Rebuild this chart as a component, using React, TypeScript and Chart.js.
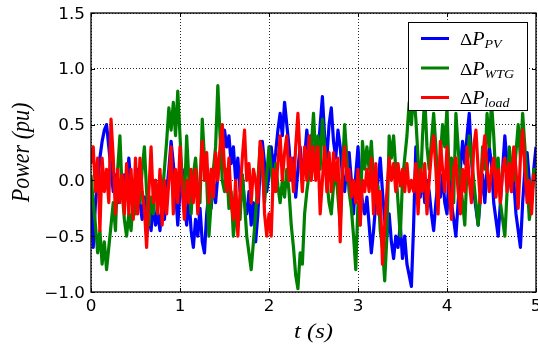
import React, { useEffect, useRef } from "react";
import { Chart, registerables } from "chart.js";

Chart.register(...registerables);

// sample step (s) of the recorded signals
const DT = 0.025;

const PV = [
  0.00, -0.60, -0.20, 0.00, 0.20, 0.35, 0.45, 0.50,
  0.30, 0.10, -0.10, 0.05, -0.20, 0.00, -0.15, 0.05,
  -0.10, 0.20, -0.05, -0.25, -0.10, 0.10, -0.20, -0.35,
  -0.15, -0.50, -0.30, -0.45, -0.20, -0.40, -0.30, -0.45,
  -0.20, -0.35, -0.10, 0.10, 0.35, 0.15, -0.10, -0.40,
  -0.10, 0.10, -0.20, -0.40, -0.15, -0.45, -0.60, -0.35,
  -0.50, -0.25, -0.55, -0.65, -0.30, -0.10, -0.25, 0.00,
  -0.20, 0.05, 0.25, 0.10, 0.45, 0.30, 0.40, 0.15,
  0.30, 0.00, 0.20, -0.10, 0.05, -0.20, -0.30, -0.10,
  -0.40, -0.20, -0.55, -0.30, 0.10, 0.35, 0.15, -0.10,
  0.05, 0.30, 0.10, 0.25, 0.45, 0.60, 0.40, 0.70,
  0.50, 0.30, 0.00, 0.20, -0.15, 0.10, 0.30, 0.05,
  0.20, 0.45, 0.25, 0.40, 0.15, 0.35, 0.20, 0.50,
  0.75, 0.40, 0.20, 0.50, 0.65, 0.35, 0.20, 0.45,
  0.30, 0.05, -0.10, 0.15, 0.25, 0.00, -0.30, 0.05,
  0.30, 0.00, -0.20, -0.30, -0.15, -0.40, -0.65, -0.45,
  -0.20, 0.00, 0.20, -0.10, -0.35, -0.50, -0.30, -0.55,
  -0.70, -0.50, -0.60, -0.40, -0.70, -0.50, -0.75, -0.85,
  -0.95, -0.40, 0.30, 0.00, -0.15, 0.05, -0.20, 0.00,
  -0.10, -0.30, -0.45, -0.20, 0.00, -0.15, 0.05, -0.20,
  -0.30, 0.10, -0.20, -0.35, -0.50, -0.20, 0.10, 0.35,
  0.15, 0.40, 0.60, 0.20, -0.10, -0.25, -0.40, -0.15,
  0.05, -0.20, 0.10, 0.30, 0.15, -0.20, -0.35, -0.50,
  -0.20, 0.10, 0.40, 0.15, 0.05, -0.10, 0.00, -0.30,
  -0.45, -0.60, -0.20, 0.10, 0.25, 0.00, -0.20, 0.10,
  0.30,
];

const WTG = [
  0.05, -0.20, -0.40, -0.65, -0.45, -0.75, -0.55, -0.80,
  -0.60, -0.40, -0.20, -0.45, 0.10, 0.40, -0.10, -0.35,
  -0.50, -0.30, -0.45, -0.15, -0.30, 0.00, -0.20, 0.10,
  0.30, -0.10, -0.40, -0.15, -0.30, 0.00, -0.20, 0.05,
  -0.15, 0.10, 0.35, 0.65, 0.45, 0.70, 0.40, 0.80,
  0.40, 0.00, -0.20, 0.40, 0.00, -0.30, 0.05, 0.20,
  -0.10, -0.20, 0.55, 0.20, 0.00, -0.50, -0.20, 0.10,
  0.30, 0.85, 0.40, 0.00, -0.10, 0.10, -0.25, -0.10,
  -0.50, -0.30, -0.20, -0.35, 0.05, -0.20, -0.50, -0.65,
  -0.80, -0.55, -0.30, 0.00, 0.30, 0.10, -0.20, 0.05,
  0.30, 0.10, -0.10, 0.15, -0.05, -0.20, 0.00, -0.15,
  0.10, -0.10, -0.40, -0.60, -0.85, -0.97, -0.65, -0.75,
  -0.30, -0.10, 0.05, 0.30, 0.60, 0.20, 0.40, 0.10,
  0.55, 0.30, 0.00, -0.20, -0.30, -0.05, 0.10, -0.15,
  -0.40, 0.10, 0.50, 0.20, -0.10, -0.25, -0.50, -0.80,
  -0.20, -0.40, 0.35, 0.10, 0.30, 0.10, 0.35, 0.00,
  -0.20, -0.05, -0.45, -0.60, -0.90, -0.50, 0.40, 0.20,
  0.40, 0.10, -0.20, -0.50, 0.00, 0.20, 0.40, 0.70,
  0.50, 0.80, 0.55, 0.20, -0.10, 0.40, 0.75, 0.30,
  0.10, 0.35, 0.60, 0.30, -0.10, 0.20, 0.50, 0.30,
  0.65, 0.00, 0.20, -0.20, 0.60, 0.30, 0.00, -0.20,
  -0.40, 0.10, 0.40, 0.20, 0.00, -0.20, -0.40, -0.10,
  0.30, 0.10, 0.60, 0.30, 0.70, 0.40, 0.00, 0.20,
  -0.20, -0.35, -0.50, -0.10, 0.30, 0.10, 0.00, 0.25,
  0.50, 0.20, 0.60, 0.30, 0.00, -0.35, -0.20, 0.10,
  0.00,
];

const LOAD = [
  0.15, 0.30, -0.10, 0.20, -0.45, 0.20, -0.10, 0.10,
  -0.20, 0.55, 0.20, -0.30, 0.10, -0.20, 0.05, -0.30,
  0.15, -0.30, 0.10, -0.35, 0.20, -0.30, 0.20, -0.10,
  -0.25, -0.60, -0.10, 0.30, -0.20, 0.00, -0.30, 0.10,
  -0.40, 0.00, -0.30, 0.00, 0.30, -0.30, 0.10, -0.20,
  0.30, -0.10, -0.35, 0.00, -0.20, 0.10, -0.20, 0.10,
  -0.30, 0.00, 0.35, 0.00, 0.25, -0.20, 0.10, -0.15,
  0.25, 0.00, 0.30, 0.50, 0.10, -0.10, 0.20, -0.20,
  -0.35, 0.00, -0.50, -0.10, 0.20, 0.45, 0.00, 0.15,
  -0.20, 0.10, 0.00, -0.20, 0.35, 0.25, -0.30, -0.50,
  -0.30, -0.50, 0.10, -0.10, 0.15, 0.40, 0.00, 0.25,
  0.40, 0.00, 0.20, -0.10, 0.30, 0.60, 0.20, -0.10,
  0.30, 0.00, 0.40, 0.00, 0.30, 0.00, 0.30, -0.30,
  0.00, 0.30, -0.10, 0.25, -0.10, 0.25, 0.00, 0.20,
  -0.55, 0.10, 0.30, 0.00, 0.10, -0.15, 0.00, -0.20,
  0.10, -0.40, 0.00, -0.10, 0.10, -0.10, 0.20, -0.30,
  0.15, -0.30, -0.10, -0.75, -0.40, -0.10, 0.20, 0.00,
  0.15, -0.10, 0.15, -0.05, 0.10, -0.10, 0.15, -0.10,
  0.00, -0.10, 0.15, -0.30, 0.10, -0.10, 0.15, -0.30,
  0.00, 0.25, 0.40, 0.10, -0.30, 0.35, 0.10, -0.10,
  0.30, -0.10, -0.35, 0.10, 0.20, -0.10, -0.30, 0.10,
  -0.10, 0.30, 0.00, -0.20, 0.30, 0.45, 0.10, -0.20,
  0.20, 0.40, 0.10, -0.10, 0.10, 0.20, -0.15, 0.10,
  -0.20, 0.10, 0.20, -0.10, 0.15, -0.10, 0.30, 0.10,
  -0.25, 0.20, 0.45, 0.10, -0.20, 0.00, -0.30, 0.05,
  0.00,
];

const X_TICKS = [0, 1, 2, 3, 4, 5];
const Y_TICKS = [-1.0, -0.5, 0.0, 0.5, 1.0, 1.5];
const X_TICK_LABELS = ["0", "1", "2", "3", "4", "5"];
const Y_TICK_LABELS = ["\u22121.0", "\u22120.5", "0.0", "0.5", "1.0", "1.5"];

const SERIES = [
  { name: "PV", sub: "PV", values: PV, color: "#0000ff" },
  { name: "WTG", sub: "WTG", values: WTG, color: "#008000" },
  { name: "load", sub: "load", values: LOAD, color: "#ff0000" },
];

const SX = 1.12; // horizontal stretch of the reference's text

function stretchedText(
  ctx: CanvasRenderingContext2D,
  text: string,
  x: number,
  y: number,
  font: string,
  align: CanvasTextAlign
) {
  ctx.save();
  ctx.font = font;
  ctx.textAlign = align;
  ctx.textBaseline = "alphabetic";
  ctx.translate(x, y);
  ctx.scale(SX, 1);
  ctx.fillText(text, 0, 0);
  const w = ctx.measureText(text).width * SX;
  ctx.restore();
  return w;
}

const decorPlugin = {
  id: "decor",
  afterDraw(chart: any) {
    const ctx: CanvasRenderingContext2D = chart.ctx;
    const a = chart.chartArea;
    const xs = chart.scales.x;
    const ys = chart.scales.y;
    ctx.save();
    ctx.fillStyle = "#000";
    ctx.strokeStyle = "#000";

    // inward ticks
    ctx.lineWidth = 1;
    ctx.beginPath();
    X_TICKS.forEach((v) => {
      const px = Math.round(xs.getPixelForValue(v)) + 0.5;
      ctx.moveTo(px, a.bottom);
      ctx.lineTo(px, a.bottom - 4);
      ctx.moveTo(px, a.top);
      ctx.lineTo(px, a.top + 4);
    });
    Y_TICKS.forEach((v) => {
      const py = Math.round(ys.getPixelForValue(v)) + 0.5;
      ctx.moveTo(a.left, py);
      ctx.lineTo(a.left + 4, py);
      ctx.moveTo(a.right, py);
      ctx.lineTo(a.right - 4, py);
    });
    ctx.stroke();

    // frame
    ctx.lineWidth = 1.3;
    ctx.strokeRect(a.left, a.top, a.right - a.left, a.bottom - a.top);

    // tick labels
    const tickFont = "15px 'DejaVu Sans'";
    X_TICKS.forEach((v, i) => {
      stretchedText(ctx, X_TICK_LABELS[i], xs.getPixelForValue(v), a.bottom + 19, tickFont, "center");
    });
    Y_TICKS.forEach((v, i) => {
      stretchedText(ctx, Y_TICK_LABELS[i], a.left - 6, ys.getPixelForValue(v) + 5.5, tickFont, "right");
    });

    // axis titles
    const titleFont = "italic 22px 'Liberation Serif'";
    stretchedText(ctx, "t (s)", (a.left + a.right) / 2, 338, titleFont, "center");
    ctx.save();
    ctx.translate(29, (a.top + a.bottom) / 2);
    ctx.rotate(-Math.PI / 2);
    ctx.scale(1, SX);
    ctx.font = titleFont;
    ctx.textAlign = "center";
    ctx.fillText("Power (pu)", 0, 0);
    ctx.restore();

    // legend
    const lx = 408.5, ly = 22.5, lw = 119, lh = 88;
    ctx.fillStyle = "#fff";
    ctx.fillRect(lx, ly, lw, lh);
    ctx.lineWidth = 1;
    ctx.strokeStyle = "#000";
    ctx.strokeRect(lx, ly, lw, lh);
    const rows = [38.5, 68, 97.5];
    SERIES.forEach((s, i) => {
      const y = rows[i];
      ctx.strokeStyle = s.color;
      ctx.lineWidth = 3;
      ctx.beginPath();
      ctx.moveTo(421, y);
      ctx.lineTo(449, y);
      ctx.stroke();
      ctx.fillStyle = "#000";
      let x = 460;
      x += stretchedText(ctx, "\u0394", x, y + 6.5, "17px 'Liberation Serif'", "left");
      x += stretchedText(ctx, "P", x, y + 6.5, "italic 18px 'Liberation Serif'", "left");
      stretchedText(ctx, s.sub, x, y + 9.5, "italic 12.5px 'Liberation Serif'", "left");
    });
    ctx.restore();
  },
};

export default function App() {
  const ref = useRef<HTMLCanvasElement | null>(null);
  useEffect(() => {
    document.body.style.margin = "0";
    const canvas = ref.current;
    if (!canvas) return;
    const time = PV.map((_, i) => i * DT);
    const chart = new Chart(canvas, {
      type: "line",
      data: {
        datasets: SERIES.map((s, i) => ({
          label: s.name,
          data: s.values.map((v, k) => ({ x: time[k], y: v })),
          borderColor: s.color,
          backgroundColor: s.color,
          borderWidth: 3.2,
          pointRadius: 0,
          tension: 0,
          fill: false,
          borderJoinStyle: "round" as const,
          order: SERIES.length - i,
        })),
      },
      options: {
        animation: false,
        responsive: false,
        layout: { padding: { top: 13, right: 2, left: 0, bottom: 0 } },
        plugins: { legend: { display: false }, tooltip: { enabled: false } },
        scales: {
          x: {
            type: "linear",
            min: 0,
            max: 5,
            afterBuildTicks: (s: any) => {
              s.ticks = X_TICKS.map((v) => ({ value: v }));
            },
            afterFit: (s: any) => {
              s.height = 58;
            },
            ticks: { display: false },
            grid: { color: "rgba(0,0,0,0.85)", lineWidth: 1, drawTicks: false },
            border: { display: false, dash: [1, 2] },
          },
          y: {
            type: "linear",
            min: -1,
            max: 1.5,
            afterBuildTicks: (s: any) => {
              s.ticks = Y_TICKS.map((v) => ({ value: v }));
            },
            afterFit: (s: any) => {
              s.width = 91;
            },
            ticks: { display: false },
            grid: { color: "rgba(0,0,0,0.85)", lineWidth: 1, drawTicks: false },
            border: { display: false, dash: [1, 2] },
          },
        },
      },
      plugins: [decorPlugin],
    });
    return () => chart.destroy();
  }, []);
  return <canvas ref={ref} width={538} height={350} style={{ display: "block" }} />;
}
